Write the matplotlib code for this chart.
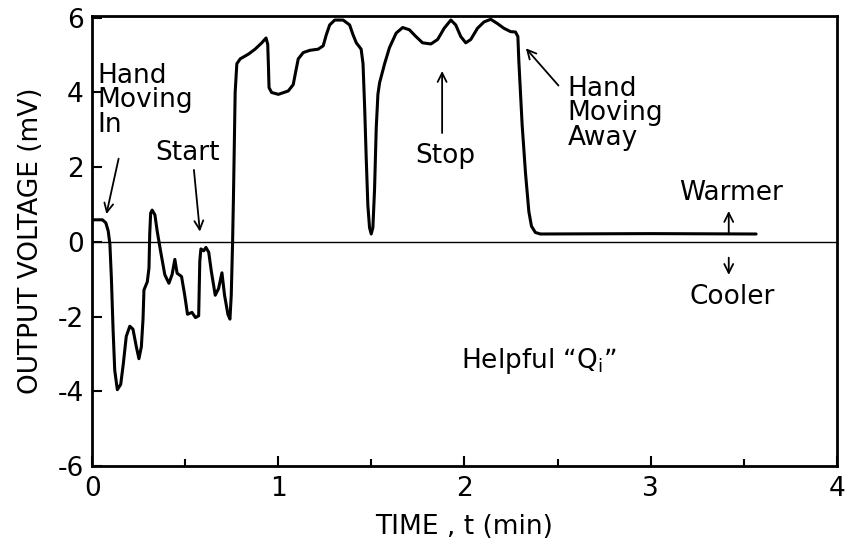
import matplotlib
matplotlib.use("Agg")
import matplotlib.pyplot as plt
from matplotlib.ticker import MultipleLocator

# Trace (time in min, output voltage in mV)
time_min = [0.0, 0.055, 0.073, 0.086, 0.095, 0.103, 0.112, 0.121, 0.135, 0.153, 0.167,
            0.183, 0.202, 0.219, 0.237, 0.251, 0.264, 0.273, 0.278, 0.296, 0.305, 0.309,
            0.314, 0.322, 0.337, 0.349, 0.367, 0.39, 0.412, 0.429, 0.444, 0.456, 0.48,
            0.497, 0.512, 0.536, 0.555, 0.572, 0.578, 0.584, 0.599, 0.611, 0.626, 0.64,
            0.661, 0.679, 0.697, 0.711, 0.729, 0.74, 0.747, 0.754, 0.759, 0.768, 0.777,
            0.795, 0.84, 0.875, 0.911, 0.934, 0.943, 0.947, 0.95, 0.964, 1.0, 1.053,
            1.08, 1.095, 1.107, 1.134, 1.17, 1.214, 1.241, 1.258, 1.276, 1.303, 1.348,
            1.383, 1.401, 1.419, 1.445, 1.455, 1.464, 1.472, 1.481, 1.49, 1.499, 1.508,
            1.517, 1.526, 1.535, 1.544, 1.571, 1.597, 1.633, 1.668, 1.704, 1.739, 1.775,
            1.82, 1.856, 1.891, 1.927, 1.953, 1.98, 2.007, 2.034, 2.07, 2.105, 2.141,
            2.176, 2.212, 2.248, 2.274, 2.287, 2.292, 2.31, 2.328, 2.346, 2.36, 2.381,
            2.408, 3.0, 3.567]
voltage_mv = [0.59, 0.59, 0.51, 0.29, -0.06, -0.97, -2.34, -3.44, -3.96, -3.82, -3.27,
              -2.53, -2.26, -2.34, -2.81, -3.13, -2.81, -2.07, -1.29, -1.07, -0.70, 0.21,
              0.77, 0.85, 0.72, 0.29, -0.24, -0.88, -1.11, -0.88, -0.47, -0.84, -0.93,
              -1.43, -1.94, -1.89, -2.03, -1.98, -0.52, -0.19, -0.24, -0.15, -0.28, -0.79,
              -1.43, -1.25, -0.83, -1.43, -1.94, -2.07, -1.43, -0.06, 1.24, 4.0, 4.77,
              4.9, 5.03, 5.16, 5.33, 5.46, 5.29, 4.68, 4.13, 4.0, 3.95, 4.04,
              4.21, 4.6, 4.9, 5.07, 5.13, 5.16, 5.25, 5.55, 5.81, 5.94, 5.94,
              5.81, 5.55, 5.33, 5.16, 4.77, 3.57, 2.27, 0.98, 0.38, 0.21, 0.38,
              1.41, 3.05, 3.95, 4.26, 4.77, 5.2, 5.59, 5.74, 5.68, 5.5, 5.33,
              5.3, 5.42, 5.72, 5.94, 5.81, 5.5, 5.33, 5.42, 5.72, 5.89, 5.96,
              5.85, 5.72, 5.63, 5.62, 5.5, 4.86, 3.13, 1.84, 0.81, 0.42, 0.25,
              0.21, 0.22, 0.21]

x_ticks = [0, 1, 2, 3, 4]
y_ticks = [-6, -4, -2, 0, 2, 4, 6]

FS = 19
fig = plt.figure(figsize=(8.46, 5.5), dpi=100)
ax = fig.add_axes([0.109, 0.153, 0.880, 0.818])

ax.plot(time_min, voltage_mv, color="black", lw=2.2,
        solid_joinstyle="round", solid_capstyle="round")
ax.axhline(0, color="black", lw=1.0)

ax.set_xlim(0, 4)
ax.set_ylim(-6, 6.05)
ax.set_xticks(x_ticks)
ax.set_yticks(y_ticks)
ax.xaxis.set_minor_locator(MultipleLocator(0.5))
ax.tick_params(which="major", direction="in", length=7, width=1.5, labelsize=FS)
ax.tick_params(which="minor", direction="in", length=5, width=1.5)
ax.tick_params(axis="x", pad=7)
ax.tick_params(axis="y", pad=6)
ax.set_xticklabels([str(v) for v in x_ticks])
ax.set_yticklabels([str(v) for v in y_ticks])
for s in ax.spines.values():
    s.set_linewidth(2.0)

ax.set_xlabel("TIME , t (min)", fontsize=FS, labelpad=9)
ax.set_ylabel("OUTPUT VOLTAGE (mV)", fontsize=FS, labelpad=10)

arrowprops = dict(arrowstyle="->", color="black", lw=1.3, mutation_scale=16)

ax.text(0.027, 3.79, "Hand\nMoving\nIn", fontsize=FS, ha="left", va="center", linespacing=0.93)
ax.annotate("", xy=(0.073, 0.67), xytext=(0.145, 2.3), arrowprops=arrowprops)

ax.text(0.513, 2.37, "Start", fontsize=FS, ha="center", va="center")
ax.annotate("", xy=(0.58, 0.2), xytext=(0.545, 2.0), arrowprops=arrowprops)

ax.text(1.895, 2.3, "Stop", fontsize=FS, ha="center", va="center")
ax.annotate("", xy=(1.88, 4.65), xytext=(1.88, 2.84), arrowprops=arrowprops)

ax.text(2.555, 3.44, "Hand\nMoving\nAway", fontsize=FS, ha="left", va="center", linespacing=0.93)
ax.annotate("", xy=(2.32, 5.24), xytext=(2.515, 4.13), arrowprops=arrowprops)

ax.text(3.43, 1.31, "Warmer", fontsize=FS, ha="center", va="center")
ax.annotate("", xy=(3.42, 0.9), xytext=(3.42, 0.13), arrowprops=arrowprops)
ax.text(3.44, -1.47, "Cooler", fontsize=FS, ha="center", va="center")
ax.annotate("", xy=(3.42, -0.96), xytext=(3.42, -0.35), arrowprops=arrowprops)

ax.text(1.98, -3.2, "Helpful \u201cQ$_\\mathregular{i}$\u201d", fontsize=FS, ha="left", va="center")

fig.savefig("out.png", dpi=100)
